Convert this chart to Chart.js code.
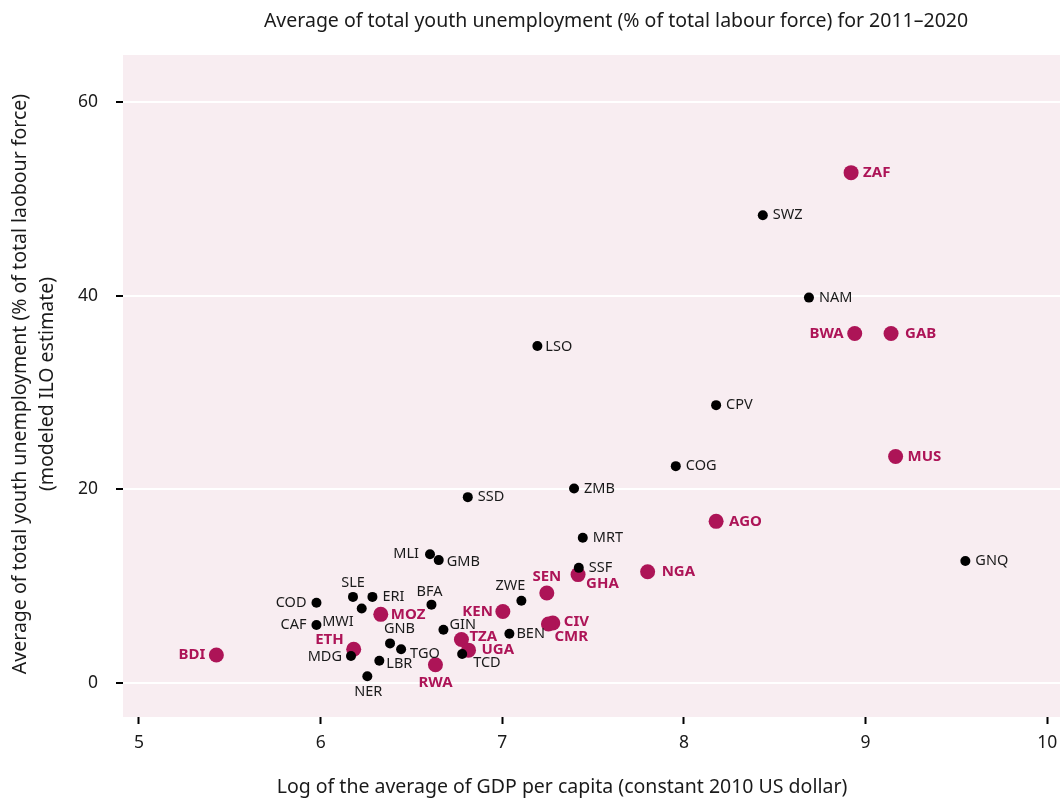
<!DOCTYPE html>
<html>
<head>
<meta charset="utf-8">
<script src="https://cdn.jsdelivr.net/npm/chart.js@4/dist/chart.umd.min.js"></script>
<style>
  html, body { margin: 0; padding: 0; background: #fff; overflow: hidden; }
  canvas { display: block; }
</style>
</head>
<body>
<canvas id="chart" width="1060" height="801"></canvas>
<script>
// highlighted countries (magenta)
const hlCodes = ['ZAF', 'BWA', 'GAB', 'MUS', 'AGO', 'NGA', 'SEN', 'GHA', 'KEN', 'CIV', 'CMR', 'TZA', 'UGA', 'RWA', 'ETH', 'MOZ', 'BDI'];
const hlGdp   = [8.92, 8.94, 9.14, 9.165, 8.177, 7.80, 7.245, 7.417, 7.003, 7.278, 7.254, 6.775, 6.814, 6.632, 6.182, 6.331, 5.426];
const hlYouth = [52.7, 36.1, 36.1, 23.4, 16.7, 11.5, 9.3, 11.2, 7.4, 6.2, 6.1, 4.5, 3.4, 1.9, 3.5, 7.1, 2.9];

// other countries (black)
const otCodes = ['SWZ', 'NAM', 'LSO', 'CPV', 'COG', 'ZMB', 'SSD', 'MRT', 'GNQ', 'SSF', 'MLI', 'GMB', 'ZWE', 'BFA', 'SLE', 'ERI', 'COD', 'MWI', 'CAF', 'GIN', 'BEN', 'GNB', 'TGO', 'MDG', 'LBR', 'TCD', 'NER'];
const otGdp   = [8.434, 8.688, 7.193, 8.177, 7.955, 7.395, 6.81, 7.443, 9.549, 7.421, 6.602, 6.65, 7.105, 6.61, 6.178, 6.285, 5.977, 6.226, 5.977, 6.676, 7.039, 6.382, 6.443, 6.167, 6.323, 6.779, 6.257];
const otYouth = [48.3, 39.8, 34.8, 28.7, 22.4, 20.1, 19.2, 15.0, 12.6, 11.9, 13.3, 12.7, 8.5, 8.1, 8.9, 8.9, 8.3, 7.7, 6.0, 5.5, 5.1, 4.1, 3.5, 2.8, 2.3, 3.0, 0.7];

const xTicks = [5, 6, 7, 8, 9, 10];
const yTicks = [0, 20, 40, 60];

const chartTitle = 'Average of total youth unemployment (% of total labour force) for 2011\u20132020';
const xTitle = 'Log of the average of GDP per capita (constant 2010 US dollar)';
const yTitle = ['Average of total youth unemployment (% of total laobour force)', '(modeled ILO estimate)'];

const MAGENTA = '#ad1457';
const FONT = '"Noto Sans", "Open Sans", sans-serif';

// label offset from the point: [dx, dy, align]
const labelPos = {
  ZAF: [12, 0, 'left'], BWA: [-11, 0, 'right'], GAB: [14, 0, 'left'], MUS: [12, 0, 'left'],
  AGO: [13, 0, 'left'], NGA: [14, 0, 'left'], SEN: [0, -16, 'center'], GHA: [8, 9, 'left'],
  KEN: [-10, 0, 'right'], CIV: [11, -1, 'left'], CMR: [6, 13, 'left'], TZA: [8, -3, 'left'],
  UGA: [13, 0, 'left'], RWA: [0, 18, 'center'], ETH: [-10, -9, 'right'], MOZ: [10, 0, 'left'],
  BDI: [-11, 0, 'right'],
  SWZ: [10, 0, 'left'], NAM: [10, 0, 'left'], LSO: [8, 1, 'left'], CPV: [10, 0, 'left'],
  COG: [10, 0, 'left'], ZMB: [10, 0, 'left'], SSD: [10, 0, 'left'], MRT: [10, 0, 'left'],
  GNQ: [10, 0, 'left'], SSF: [10, 0, 'left'], MLI: [-11, 0, 'right'], GMB: [8, 2, 'left'],
  ZWE: [4, -15, 'right'], BFA: [-2, -13, 'center'], SLE: [0, -14, 'center'], ERI: [10, 0, 'left'],
  COD: [-10, 0, 'right'], MWI: [-8, 13, 'right'], CAF: [-10, 0, 'right'], GIN: [6, -5, 'left'],
  BEN: [7, 0, 'left'], GNB: [-6, -15, 'left'], TGO: [9, 5, 'left'], MDG: [-9, 1, 'right'],
  LBR: [7, 3, 'left'], TCD: [11, 9, 'left'], NER: [1, 16, 'center']
};

function toPoints(xs, ys) {
  return xs.map((x, i) => ({ x: x, y: ys[i] }));
}

const bgPlugin = {
  id: 'bg',
  beforeDraw(chart) {
    const { ctx, chartArea: a } = chart;
    ctx.save();
    ctx.fillStyle = '#f8edf1';
    ctx.fillRect(a.left, a.top, a.right - a.left, a.bottom - a.top);
    ctx.restore();
  }
};

const textPlugin = {
  id: 'texts',
  afterDraw(chart) {
    const ctx = chart.ctx;
    ctx.save();
    ctx.fillStyle = '#1a1a1a';
    ctx.textBaseline = 'middle';
    ctx.textAlign = 'center';
    ctx.font = '19.5px ' + FONT;
    ctx.fillText(chartTitle, 616, 21);
    ctx.fillText(xTitle, 562, 787);
    ctx.save();
    ctx.translate(20, 384);
    ctx.rotate(-Math.PI / 2);
    ctx.fillText(yTitle[0], 0, 0);
    ctx.fillText(yTitle[1], 0, 27);
    ctx.restore();

    // point labels
    const sets = [[1, hlCodes, true], [0, otCodes, false]];
    sets.forEach(([di, codes, bold]) => {
      const meta = chart.getDatasetMeta(di);
      meta.data.forEach((el, i) => {
        const code = codes[i];
        const p = labelPos[code] || [10, 0, 'left'];
        ctx.font = bold ? 'bold 15px ' + FONT : '14.5px ' + FONT;
        ctx.fillStyle = bold ? MAGENTA : '#1a1a1a';
        ctx.textAlign = p[2];
        ctx.fillText(code, el.x + p[0], el.y + p[1]);
      });
    });
    ctx.restore();
  }
};

new Chart(document.getElementById('chart'), {
  type: 'scatter',
  data: {
    datasets: [
      {
        label: 'Other',
        data: toPoints(otGdp, otYouth),
        backgroundColor: '#000',
        borderWidth: 0,
        pointRadius: 5
      },
      {
        label: 'Highlighted',
        data: toPoints(hlGdp, hlYouth),
        backgroundColor: MAGENTA,
        borderWidth: 0,
        pointRadius: 7.5
      }
    ]
  },
  options: {
    responsive: false,
    animation: false,
    layout: { autoPadding: false, padding: { top: 55, right: 0, left: 0, bottom: 0 } },
    plugins: {
      legend: { display: false },
      tooltip: { enabled: false }
    },
    scales: {
      x: {
        type: 'linear',
        min: 4.912,
        max: 10.07,
        afterFit(s) {
          s.height = 84;
          s.paddingLeft = 0;
          s.paddingRight = 0;
        },
        afterBuildTicks(s) { s.ticks = xTicks.map(v => ({ value: v })); },
        border: { display: false },
        grid: {
          drawOnChartArea: false,
          drawTicks: true,
          tickLength: 7,
          tickWidth: 2,
          tickColor: '#000'
        },
        ticks: {
          padding: 9,
          color: '#1a1a1a',
          font: { family: FONT, size: 17.5 }
        }
      },
      y: {
        type: 'linear',
        min: -3.5,
        max: 64.85,
        afterFit(s) {
          s.width = 123;
          s.paddingTop = 0;
          s.paddingBottom = 0;
        },
        afterBuildTicks(s) { s.ticks = yTicks.map(v => ({ value: v })); },
        border: { display: false },
        grid: {
          color: '#ffffff',
          lineWidth: 2,
          drawTicks: true,
          tickLength: 7,
          tickWidth: 2,
          tickColor: '#000'
        },
        ticks: {
          padding: 18,
          color: '#1a1a1a',
          font: { family: FONT, size: 17.5 }
        }
      }
    }
  },
  plugins: [bgPlugin, textPlugin]
});
</script>
</body>
</html>
